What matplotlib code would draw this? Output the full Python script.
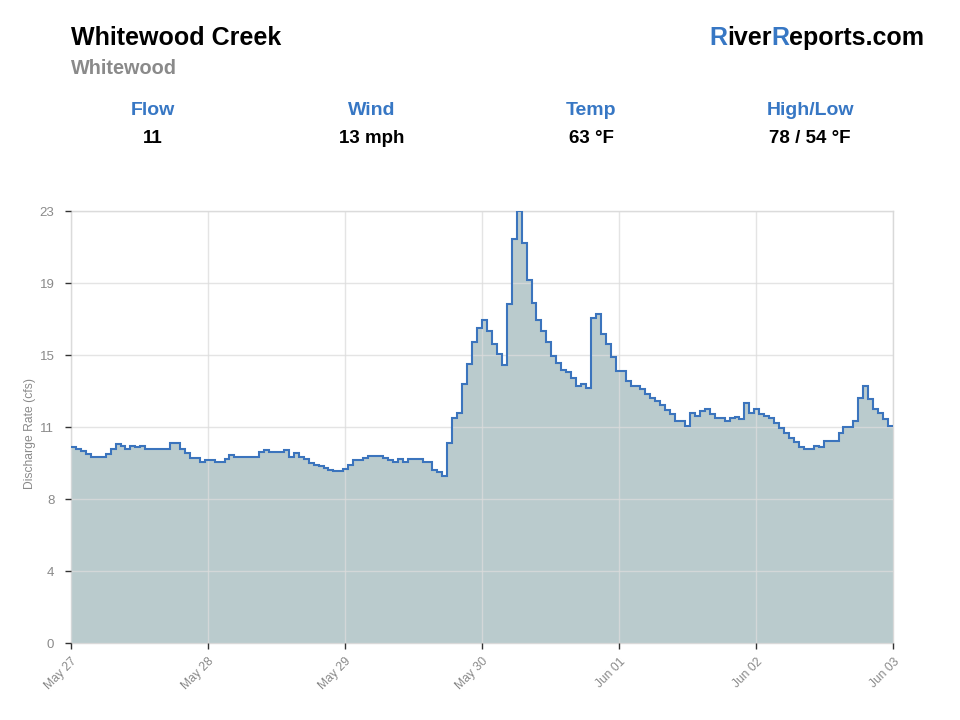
import numpy as np
import matplotlib
matplotlib.use("Agg")
import matplotlib.pyplot as plt
from matplotlib.text import Annotation

plt.rcParams['font.family'] = ['Liberation Sans', 'DejaVu Sans']

# hourly discharge readings (cfs)
flow = [10.42, 10.33, 10.22, 10.05, 9.92, 9.92, 9.92, 10.05, 10.33, 10.6,
        10.5, 10.33, 10.5, 10.42, 10.5, 10.33, 10.33, 10.33, 10.33, 10.33,
        10.63, 10.63, 10.33, 10.1, 9.83, 9.83, 9.66, 9.73, 9.73, 9.64,
        9.64, 9.79, 10.01, 9.92, 9.92, 9.92, 9.92, 9.92, 10.15, 10.27,
        10.17, 10.17, 10.17, 10.27, 9.89, 10.1, 9.92, 9.78, 9.6, 9.48,
        9.41, 9.32, 9.23, 9.14, 9.14, 9.25, 9.48, 9.76, 9.76, 9.83,
        9.94, 9.94, 9.94, 9.83, 9.74, 9.66, 9.78, 9.62, 9.8, 9.8,
        9.8, 9.62, 9.62, 9.21, 9.12, 8.91, 10.63, 11.96, 12.23, 13.77,
        14.87, 16.05, 16.79, 17.2, 16.61, 15.92, 15.39, 14.78, 18.05, 21.49,
        23.0, 21.28, 19.33, 18.12, 17.2, 16.61, 16.05, 15.3, 14.89, 14.54,
        14.45, 14.13, 13.7, 13.79, 13.6, 17.32, 17.52, 16.44, 15.92, 15.21,
        14.5, 14.5, 13.97, 13.7, 13.7, 13.52, 13.24, 13.03, 12.89, 12.67,
        12.41, 12.18, 11.84, 11.84, 11.57, 12.23, 12.09, 12.35, 12.44, 12.18,
        11.96, 11.96, 11.84, 11.96, 12.05, 11.93, 12.76, 12.27, 12.46, 12.18,
        12.09, 11.96, 11.7, 11.43, 11.17, 10.93, 10.72, 10.45, 10.33, 10.33,
        10.49, 10.42, 10.76, 10.76, 10.76, 11.17, 11.52, 11.52, 11.84, 13.06,
        13.68, 12.97, 12.46, 12.23, 11.93, 11.55]

date_labels = ["May 27", "May 28", "May 29", "May 30", "Jun 01", "Jun 02", "Jun 03"]
y_max = 23
y_labels = ["0", "4", "8", "11", "15", "19", "23"]

stat_names = ["Flow", "Wind", "Temp", "High/Low"]
stat_values = ["11", "13 mph", "63 °F", "78 / 54 °F"]

BLUE = "#3777c4"
LINE = "#3b74bd"
FILL = "#bacbcd"
GRAY = "#8a8a8a"

fig = plt.figure(figsize=(9.6, 7.2), dpi=100)
ax = fig.add_axes([71 / 960, 1 - 643 / 720, 822 / 960, 432 / 720])

edges = np.arange(len(flow) + 1)
ax.stairs(flow, edges, fill=True, color=FILL, zorder=1)
ax.stairs(flow, edges, baseline=None, color=LINE, lw=1.5, zorder=3)

ax.set_xlim(0, len(flow))
ax.set_ylim(0, y_max)
ax.set_xticks(np.linspace(0, len(flow), len(date_labels)))
ax.set_xticklabels(date_labels, rotation=45, ha="right", va="top",
                   rotation_mode="anchor", color=GRAY, fontsize=8.7)
ax.set_yticks(np.linspace(0, y_max, len(y_labels)))
ax.set_yticklabels(y_labels, color=GRAY, fontsize=9.5)
ax.tick_params(axis="both", length=4, width=1, color="#333333")
ax.tick_params(axis="x", pad=5)
ax.tick_params(axis="y", pad=8)

ax.grid(True, color="#dcdcdc", lw=1, alpha=0.75, zorder=2)
ax.set_axisbelow(False)
for s in ax.spines.values():
    s.set_color("#d9d9d9")
    s.set_linewidth(1)
    s.set_zorder(0.5)

ax.set_ylabel("Discharge Rate (cfs)", color=GRAY, fontsize=8.7)
ax.yaxis.set_label_coords(-0.042, 0.484)

# header
fig.text(71 / 960, 1 - 45 / 720, "Whitewood Creek", fontsize=18, fontweight="bold",
         color="black", va="baseline")
fig.text(71 / 960, 1 - 74 / 720, "Whitewood", fontsize=14.3, fontweight="bold",
         color=GRAY, va="baseline")

# site name, capitals in blue: chain each piece after the previous one
parts = [("R", BLUE), ("iver", "black"), ("R", BLUE), ("eports.com", "black")]
prev = fig.text(709 / 960, 1 - 45 / 720, parts[0][0], fontsize=18,
                fontweight="bold", color=parts[0][1], va="baseline")
for txt, col in parts[1:]:
    prev = fig.add_artist(Annotation(txt, xy=(1, 0), xycoords=prev,
                                     va="bottom", ha="left", fontsize=18,
                                     fontweight="bold", color=col))

stat_x = [153, 372, 591, 810]
for x, name, val in zip(stat_x, stat_names, stat_values):
    fig.text(x / 960, 1 - 115 / 720, name, fontsize=14, fontweight="bold",
             color=BLUE, ha="center", va="baseline")
    fig.text(x / 960, 1 - 143 / 720, val, fontsize=13.5, fontweight="bold",
             color="black", ha="center", va="baseline")

fig.savefig("out.png", dpi=100)
